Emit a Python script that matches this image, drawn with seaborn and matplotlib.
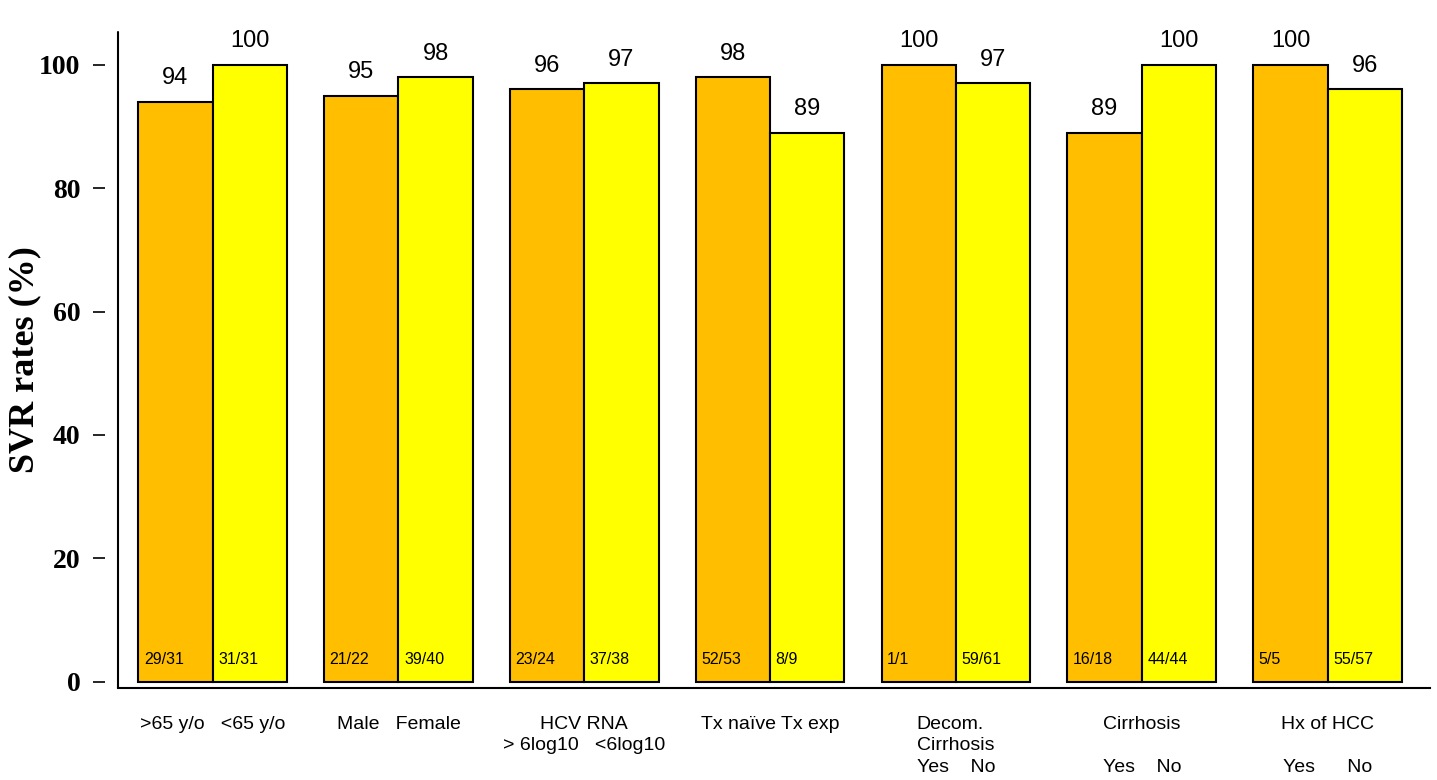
import pandas as pd
import matplotlib
matplotlib.use("Agg")
import matplotlib.pyplot as plt
import seaborn as sns

# Datos del gráfico
grupos = ["Edad", "Sexo", "HCV RNA", "Tx", "Decom", "Cirrosis", "HCC"]
svr_primero = [94, 95, 96, 98, 100, 89, 100]
svr_segundo = [100, 98, 97, 89, 97, 100, 96]
n_primero = ["29/31", "21/22", "23/24", "52/53", "1/1", "16/18", "5/5"]
n_segundo = ["31/31", "39/40", "37/38", "8/9", "59/61", "44/44", "55/57"]
etiquetas_x = [
    ">65 y/o   <65 y/o",
    "Male   Female",
    "HCV RNA\n> 6log10   <6log10",
    "Tx naïve Tx exp",
    "Decom.\nCirrhosis\nYes    No",
    "Cirrhosis\n\nYes    No",
    "Hx of HCC\n\nYes      No",
]
ticks_y = [0, 20, 40, 60, 80, 100]

sns.set_style("white")
plt.rcParams["text.color"] = "black"
plt.rcParams["axes.labelcolor"] = "black"
plt.rcParams["xtick.color"] = "black"
plt.rcParams["ytick.color"] = "black"

df = pd.DataFrame({
    "grupo": grupos * 2,
    "svr": svr_primero + svr_segundo,
    "brazo": ["a"] * len(grupos) + ["b"] * len(grupos),
})

fig = plt.figure(figsize=(14.37, 7.8), dpi=100)
ax = fig.add_axes([0.082, 0.118, 0.913, 0.841])

sns.barplot(data=df, x="grupo", y="svr", hue="brazo",
            palette=["#FFBF00", "#FFFF00"], saturation=1, width=0.8,
            edgecolor="black", linewidth=1.5, legend=False, ax=ax)

ax.set_xlim(-0.51, 6.55)
ax.set_ylim(-1, 105.3)

# Espinas (antes de dar formato a los ticks, porque set_position los reinicia)
ax.spines["left"].set_position(("outward", 9))
ax.spines["left"].set_visible(False)
ax.axvline(-0.51, color="black", linewidth=1.5, clip_on=False)
ax.spines["top"].set_visible(False)
ax.spines["right"].set_visible(False)
ax.spines["bottom"].set_linewidth(1.5)
ax.spines["bottom"].set_color("black")

# Valores encima de las barras
for cont, vals in zip(ax.containers, [svr_primero, svr_segundo]):
    ax.bar_label(cont, labels=[str(v) for v in vals], padding=9,
                 fontsize=17, family="Liberation Sans", color="black")

# Fracciones dentro de las barras
for cont, fr in zip(ax.containers, [n_primero, n_segundo]):
    for p, t in zip(cont.patches, fr):
        ax.text(p.get_x() + 0.03, 3.6, t, fontsize=11.5, va="center",
                family="Liberation Sans", color="black")

# Ejes
ax.set_xticks(range(len(grupos)))
ax.set_xticklabels(etiquetas_x, fontsize=14, family="Liberation Sans",
                   va="top", linespacing=1.35, color="black")
ax.get_xticklabels()[4].set_multialignment("left")
ax.tick_params(axis="x", length=0, pad=20)

ax.set_yticks(ticks_y)
ax.set_yticklabels([str(t) for t in ticks_y], fontsize=20,
                   family="Liberation Serif", fontweight="bold", color="black")
ax.tick_params(axis="y", left=True, length=9, width=1.2, direction="out",
               pad=9, color="black")

ax.set_xlabel("")
ax.set_ylabel("SVR rates (%)", fontsize=26, family="Liberation Serif",
              fontweight="bold", labelpad=-2, color="black")

fig.savefig("out.png", dpi=100)
